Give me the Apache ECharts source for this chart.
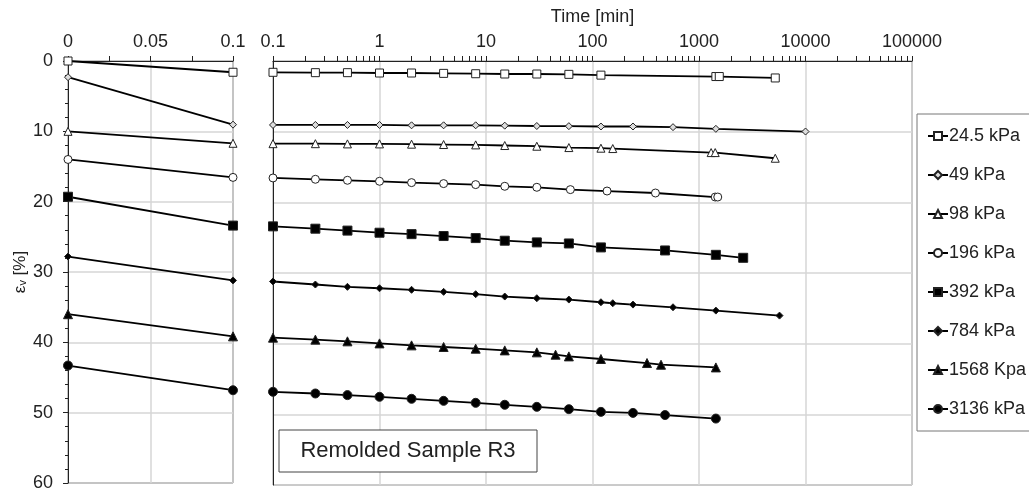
<!DOCTYPE html>
<html>
<head>
<meta charset="utf-8">
<script src="https://cdn.jsdelivr.net/npm/echarts@6/dist/echarts.min.js"></script>
<style>
html,body{margin:0;padding:0;background:#fff;}
#c{width:1029px;height:492px;}
</style>
</head>
<body>
<div id="c"></div>
<script>
// ---- data ----
const seriesNames = ['24.5 kPa','49 kPa','98 kPa','196 kPa','392 kPa','784 kPa','1568 Kpa','3136 kPa'];
const leftTimes = [0, 0.1];

const left24_5 = [0, 1.6];
const left49 = [2.3, 9.05];
const left98 = [10.0, 11.7];
const left196 = [14.0, 16.55];
const left392 = [19.3, 23.4];
const left784 = [27.8, 31.2];
const left1568 = [36.0, 39.15];
const left3136 = [43.3, 46.81];

const t24_5 = [0.1,0.25,0.5,1,2,4,8,15,30,60,120,1440,1550,5200];
const v24_5 = [1.6,1.65,1.65,1.7,1.7,1.75,1.8,1.84,1.84,1.89,2.0,2.2,2.2,2.4];
const t49 = [0.1,0.25,0.5,1,2,4,8,15,30,60,120,240,570,1440,10000];
const v49 = [9.05,9.05,9.05,9.05,9.1,9.1,9.1,9.15,9.2,9.22,9.27,9.27,9.36,9.6,9.98];
const t98 = [0.1,0.25,0.5,1,2,4,8,15,30,60,120,155,1300,1420,5200];
const v98 = [11.7,11.7,11.73,11.73,11.77,11.82,11.87,11.96,12.06,12.25,12.34,12.39,12.96,12.96,13.76];
const t196 = [0.1,0.25,0.5,1,2,4,8,15,30,62,137,390,1420,1500];
const v196 = [16.55,16.74,16.88,17.02,17.21,17.35,17.49,17.73,17.87,18.2,18.4,18.68,19.25,19.25];
const t392 = [0.1,0.25,0.5,1,2,4,8,15,30,60,120,480,1440,2600];
const v392 = [23.4,23.73,24.0,24.3,24.5,24.77,25.06,25.43,25.67,25.82,26.38,26.81,27.43,27.85];
const t784 = [0.1,0.25,0.5,1,2,4,8,15,30,60,120,155,240,570,1440,5700];
const v784 = [31.2,31.63,31.96,32.16,32.38,32.67,33.0,33.33,33.57,33.76,34.14,34.28,34.47,34.85,35.32,36.03];
const t1568 = [0.1,0.25,0.5,1,2,4,8,15,30,45,60,120,325,440,1440];
const v1568 = [39.15,39.43,39.67,39.96,40.24,40.47,40.71,40.95,41.23,41.56,41.8,42.17,42.74,42.98,43.36];
const t3136 = [0.1,0.25,0.5,1,2,4,8,15,30,60,120,240,480,1440];
const v3136 = [46.81,47.05,47.28,47.52,47.8,48.09,48.37,48.65,48.94,49.27,49.65,49.8,50.1,50.6];

const boxText = 'Remolded Sample R3';
const yTitle = 'ε\u1D65 [%]';

// ---- build ----
const leftVals = [left24_5,left49,left98,left196,left392,left784,left1568,left3136];
const rightT = [t24_5,t49,t98,t196,t392,t784,t1568,t3136];
const rightV = [v24_5,v49,v98,v196,v392,v784,v1568,v3136];
const symbols = [
  {symbol:'rect', size:8, fill:'#fff'},
  {symbol:'diamond', size:7, fill:'#ddd'},
  {symbol:'triangle', size:8, fill:'#fff'},
  {symbol:'circle', size:8, fill:'#fff'},
  {symbol:'rect', size:9, fill:'#000'},
  {symbol:'diamond', size:7, fill:'#000'},
  {symbol:'triangle', size:9, fill:'#000'},
  {symbol:'circle', size:9, fill:'#000'}
];
const zip = (a,b) => a.map((x,i)=>[x,b[i]]);

// tick positions for log axis (1..9 per decade)
const logTicks = [];
for (let e=-1; e<5; e++) for (let k=1; k<10; k++) logTicks.push(+(k*Math.pow(10,e)).toPrecision(6));
logTicks.push(100000);

const FONT = "'Liberation Sans', Arial, sans-serif";
const TXT = '#222';
const GRIDC = '#d6d6d6';

const series = [];
seriesNames.forEach((name,i)=>{
  const s = symbols[i];
  const common = {
    name, type:'line', symbol:s.symbol, symbolSize:s.size,
    lineStyle:{color:'#000', width:1.8},
    itemStyle:{color:s.fill, borderColor:'#222', borderWidth:1},
    emphasis:{disabled:true}, animation:false, z:3
  };
  series.push(Object.assign({}, common, {xAxisIndex:0, yAxisIndex:0, data: zip(leftTimes, leftVals[i])}));
  series.push(Object.assign({}, common, {xAxisIndex:1, yAxisIndex:1, data: zip(rightT[i], rightV[i])}));
});

const chart = echarts.init(document.getElementById('c'), null, {renderer:'canvas'});
chart.setOption({
  backgroundColor:'#fff',
  animation:false,
  textStyle:{fontFamily:FONT},
  grid:[
    {left:68, top:61, width:165, height:424, show:true, borderColor:'#222', borderWidth:1},
    {left:273, top:61, width:639, height:424, show:true, borderColor:'#555', borderWidth:1},
    {left:273, top:61, width:639, height:424, show:false}
  ],
  xAxis:[
    {gridIndex:0, type:'value', position:'top', min:0, max:0.1, interval:0.05,
     axisLine:{show:true, lineStyle:{color:'#222'}},
     axisTick:{show:true, length:5, lineStyle:{color:'#222'}},
     minorTick:{show:true, splitNumber:2, length:5, lineStyle:{color:'#222'}},
     axisLabel:{fontSize:18, color:TXT, margin:10, fontFamily:FONT},
     splitLine:{show:true, lineStyle:{color:GRIDC, width:1.5}}},
    {gridIndex:1, type:'log', logBase:10, position:'top', min:0.1, max:100000,
     name:'Time [min]', nameLocation:'middle', nameGap:35,
     nameTextStyle:{fontSize:18, color:TXT, fontFamily:FONT},
     axisLine:{show:true, lineStyle:{color:'#222'}},
     axisTick:{show:false},
     axisLabel:{fontSize:18, color:TXT, margin:10, fontFamily:FONT, formatter:(v)=>String(+(+v).toPrecision(6))},
     splitLine:{show:true, lineStyle:{color:GRIDC, width:1.5}}},
    {gridIndex:2, type:'log', logBase:10, position:'top', min:0.1, max:100000,
     axisLine:{show:false},
     axisTick:{show:true, length:5, customValues:logTicks, lineStyle:{color:'#222'}},
     axisLabel:{show:false}, splitLine:{show:false}}
  ],
  yAxis:[
    {gridIndex:0, type:'value', inverse:true, min:0, max:60, interval:10,
     name:yTitle, nameLocation:'middle', nameGap:38, nameRotate:90,
     nameTextStyle:{fontSize:17, color:TXT, fontFamily:FONT},
     axisLine:{show:true, lineStyle:{color:'#222'}},
     axisTick:{show:true, length:5, lineStyle:{color:'#222'}},
     minorTick:{show:true, splitNumber:5, length:3, lineStyle:{color:'#222'}},
     axisLabel:{fontSize:18, color:TXT, margin:15, fontFamily:FONT},
     splitLine:{show:true, lineStyle:{color:GRIDC, width:1.5}}},
    {gridIndex:1, type:'value', inverse:true, min:0, max:60, interval:10,
     axisLine:{show:true, lineStyle:{color:'#222'}},
     axisTick:{show:false}, axisLabel:{show:false},
     splitLine:{show:true, lineStyle:{color:GRIDC, width:1.5}}},
    {gridIndex:2, type:'value', inverse:true, min:0, max:60, show:false}
  ],
  legend:{
    data:seriesNames, orient:'vertical', left:917, top:114,
    padding:[12,12,12,10], itemGap:19, itemWidth:20, itemHeight:10,
    borderColor:'#777', borderWidth:1, backgroundColor:'#fff',
    textStyle:{fontSize:18, color:TXT, fontFamily:FONT, lineHeight:20, padding:[0,0,0,-4]},
    selectedMode:false
  },
  graphic:[
    {type:'rect', x:279, y:430, z:10, shape:{x:0, y:0, width:258, height:42},
     style:{fill:'#fff', stroke:'#444', lineWidth:1}},
    {type:'text', x:408, y:451, z:11,
     style:{text:boxText, fontSize:22, fontFamily:FONT, fill:TXT, align:'center', verticalAlign:'middle', textAlign:'center', textVerticalAlign:'middle'}}
  ],
  series
});
</script>
</body>
</html>
